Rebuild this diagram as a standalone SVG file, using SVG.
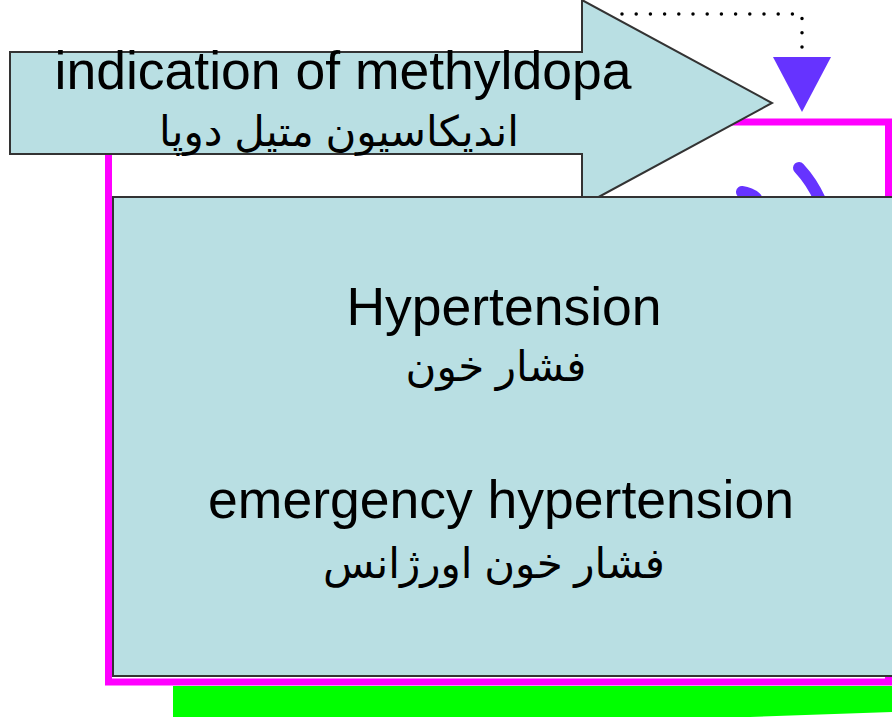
<svg xmlns="http://www.w3.org/2000/svg" width="892" height="717" viewBox="0 0 892 717">
<style>
.en{font-family:"Liberation Sans",Arial,sans-serif;font-size:53.5px;fill:#000;text-anchor:middle}
.fa{font-family:"Liberation Sans","DejaVu Sans",sans-serif;font-size:42px;fill:#000;text-anchor:middle}
.box{fill:#b9dfe3;stroke:#333;stroke-width:2}
</style>
<rect width="892" height="717" fill="#fff"/>
<g id="green-bar"><polygon points="173,686 892,686 892,712 750,717 173,717" fill="#00ff00"/></g>
<g id="frame"><rect x="108.5" y="122" width="780" height="560" fill="#fff" stroke="#ff00ff" stroke-width="7"/></g>
<g id="purple-arc" fill="none" stroke="#6633ff" stroke-width="12" stroke-linecap="round">
<path d="M799 168 Q812 182 820 200"/>
<path d="M742 192 Q750 193 756 198"/>
</g>
<g id="connectors">
<path d="M802 47 V14 H617" fill="none" stroke="#000" stroke-width="3.5" stroke-linecap="round" stroke-dasharray="0 14.2"/>
<polygon points="773,57 831,57 802,112" fill="#6633ff"/>
</g>
<g id="arrow-node">
<polygon class="box" stroke-width="1.5" points="10,52 582,52 582,0 772,103 582,206 582,154 10,154"/>
<text class="en" x="343" y="89">indication of methyldopa</text>
<text class="fa" x="339" y="146" direction="rtl">اندیکاسیون متیل دوپا</text>
</g>
<g id="main-node">
<rect class="box" x="113" y="197" width="790" height="479"/>
<text class="en" x="504" y="325">Hypertension</text>
<text class="fa" x="496" y="381" direction="rtl">فشار خون</text>
<text class="en" x="501" y="518">emergency hypertension</text>
<text class="fa" x="494" y="578" direction="rtl">فشار خون اورژانس</text>
</g>
</svg>
